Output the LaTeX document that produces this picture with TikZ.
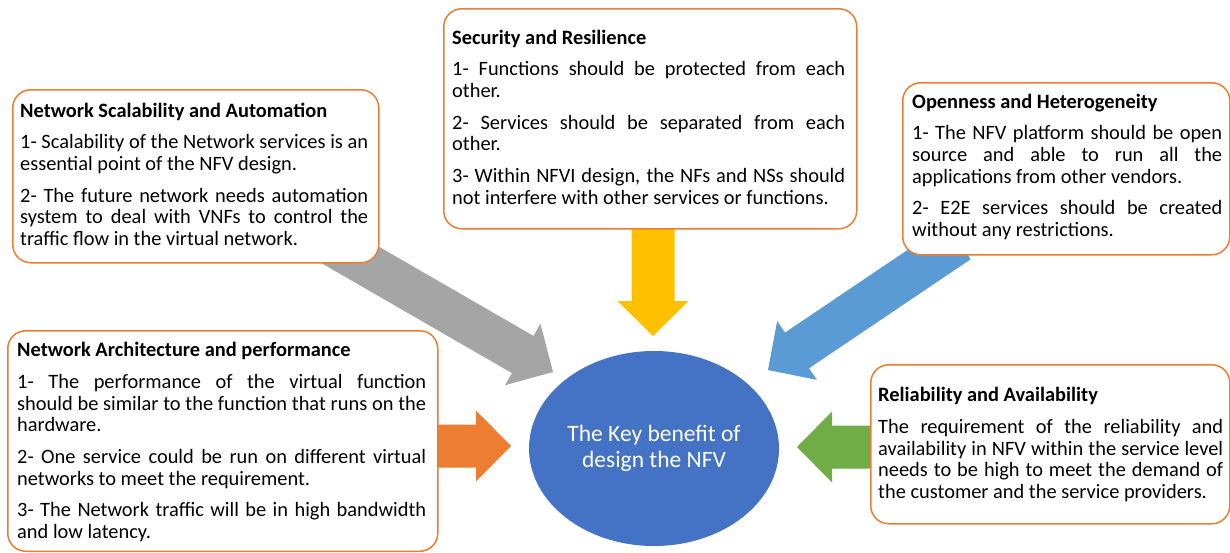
\documentclass[tikz,border=0pt]{standalone}
\usepackage{fontspec}
\setmainfont{Carlito}
\usetikzlibrary{shapes.geometric}
\definecolor{bord}{HTML}{ED7D31}
\definecolor{agray}{HTML}{A5A5A5}
\definecolor{ayellow}{HTML}{FFC000}
\definecolor{ablue}{HTML}{5B9BD5}
\definecolor{aorange}{HTML}{ED7D31}
\definecolor{agreen}{HTML}{70AD47}
\definecolor{cblue}{HTML}{4472C4}
\newcommand\parsepx{\par\vspace{10pt}}
\newcommand\blockarrow[4]{%
  \fill[#4, shift={(#1)}, rotate=#2]
    (-#3,-21.5) -- (-35,-21.5) -- (-35,-35.5) -- (0,0) -- (-35,35.5) -- (-35,21.5) -- (-#3,21.5) -- cycle;}
\begin{document}
\begin{tikzpicture}[x=1pt,y=-1pt,
  cbox/.style={draw=bord, line width=1.5pt, fill=white, rounded corners=18pt, inner sep=0pt, anchor=north west},
  txt/.style={anchor=base west, inner sep=0pt, align=justify,
    font=\fontsize{20.4}{21.7}\selectfont},
  core/.style={ellipse, fill=cblue, inner sep=0pt, text=white, align=center,
    font=\fontsize{23.5}{26.3}\selectfont}]
\useasboundingbox (0,0) rectangle (1230,552);
% arrow tips
\coordinate (tg) at (553,372);
\coordinate (ty) at (653,336);
\coordinate (tb) at (768,370);
\coordinate (to) at (511,446);
\coordinate (tgr) at (797,447);
\blockarrow{tg}{-30}{260}{agray}
\blockarrow{ty}{-90}{116}{ayellow}
\blockarrow{tb}{-146}{230}{ablue}
\blockarrow{to}{0}{81}{aorange}
\blockarrow{tgr}{180}{83}{agreen}
% boxes
\node[cbox, minimum width=366pt, minimum height=173pt] (b1) at (12,89) {};
\node[cbox, minimum width=413pt, minimum height=220pt] (b2) at (443,8) {};
\node[cbox, minimum width=327pt, minimum height=172pt] (b3) at (902,82) {};
\node[cbox, minimum width=430pt, minimum height=220.5pt] (b4) at (7,330) {};
\node[cbox, minimum width=359pt, minimum height=159pt] (b5) at (870,364) {};
% texts
\node[txt, text width=348pt] (t1) at (20,117) {\textbf{Network Scalability and Automation}\parsepx
1- Scalability of the Network services is an\linebreak essential point of the NFV design.\parsepx
2- The future network needs automation\linebreak system to deal with VNFs to control the\linebreak traffic flow in the virtual network.};
\node[txt, text width=393pt] (t2) at (452,44) {\textbf{Security and Resilience}\parsepx
1- Functions should be protected from each\linebreak other.\parsepx
2- Services should be separated from each\linebreak other.\parsepx
3- Within NFVI design, the NFs and NSs should\linebreak not interfere with other services or functions.};
\node[txt, text width=310pt] (t3) at (912,108) {\textbf{Openness and Heterogeneity}\parsepx
1- The NFV platform should be open\linebreak source and able to run all the\linebreak applications from other vendors.\parsepx
2- E2E services should be created\linebreak without any restrictions.};
\node[txt, text width=409pt] (t4) at (17,356.7) {\textbf{Network Architecture and performance}\parsepx
1- The performance of the virtual function\linebreak should be similar to the function that runs on the\linebreak hardware.\parsepx
2- One service could be run on different virtual\linebreak networks to meet the requirement.\parsepx
3- The Network traffic will be in high bandwidth\linebreak and low latency.};
\node[txt, text width=345pt] (t5) at (878,401.7) {\textbf{Reliability and Availability}\parsepx
The requirement of the reliability and\linebreak availability in NFV within the service level\linebreak needs to be high to meet the demand of\linebreak the customer and the service providers.};
% centre
\node[core, minimum width=250pt, minimum height=195pt] (c) at (654,448.5) {The Key benefit of\\design the NFV};
\end{tikzpicture}
\end{document}
